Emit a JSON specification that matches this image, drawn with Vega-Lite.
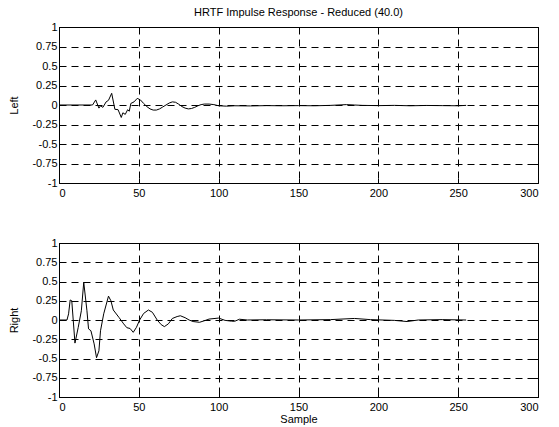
{
  "$schema": "https://vega.github.io/schema/vega-lite/v6.json",
  "padding": {"left": 8, "top": 6, "right": 10, "bottom": 3},
  "spacing": 37,
  "background": "white",
  "config": {
    "font": "Liberation Sans",
    "view": {"stroke": "black", "strokeWidth": 1},
    "axis": {
      "labelFont": "Liberation Sans",
      "labelFontSize": 11,
      "labelColor": "black",
      "titleFont": "Liberation Sans",
      "titleFontSize": 11,
      "titleFontWeight": "normal",
      "titleColor": "black",
      "domainColor": "black",
      "tickColor": "black",
      "gridColor": "black",
      "gridDash": [7, 5],
      "gridOpacity": 1,
      "gridWidth": 1
    },
    "title": {"font": "Liberation Sans", "fontSize": 11, "fontWeight": "normal", "color": "black"}
  },
  "datasets": {
    "hrtf": [
      {"ch": "Left", "sample": 0, "value": 0},
      {"ch": "Left", "sample": 21, "value": 0},
      {"ch": "Left", "sample": 23, "value": 0.065},
      {"ch": "Left", "sample": 25, "value": -0.04},
      {"ch": "Left", "sample": 26, "value": -0.01},
      {"ch": "Left", "sample": 27.5, "value": -0.03},
      {"ch": "Left", "sample": 29.5, "value": 0.04},
      {"ch": "Left", "sample": 31, "value": 0.06},
      {"ch": "Left", "sample": 33, "value": 0.15},
      {"ch": "Left", "sample": 35, "value": -0.055},
      {"ch": "Left", "sample": 37, "value": -0.06},
      {"ch": "Left", "sample": 39, "value": -0.16},
      {"ch": "Left", "sample": 40, "value": -0.1},
      {"ch": "Left", "sample": 41.5, "value": -0.12},
      {"ch": "Left", "sample": 43, "value": -0.06},
      {"ch": "Left", "sample": 44, "value": -0.08},
      {"ch": "Left", "sample": 45, "value": 0.02},
      {"ch": "Left", "sample": 47, "value": 0.04},
      {"ch": "Left", "sample": 49, "value": 0.085},
      {"ch": "Left", "sample": 51, "value": 0.065},
      {"ch": "Left", "sample": 53, "value": 0.02},
      {"ch": "Left", "sample": 55, "value": -0.02},
      {"ch": "Left", "sample": 57, "value": -0.05},
      {"ch": "Left", "sample": 59, "value": -0.065},
      {"ch": "Left", "sample": 61, "value": -0.065},
      {"ch": "Left", "sample": 63, "value": -0.05},
      {"ch": "Left", "sample": 65, "value": -0.025},
      {"ch": "Left", "sample": 67, "value": 0.0},
      {"ch": "Left", "sample": 69, "value": 0.025},
      {"ch": "Left", "sample": 71, "value": 0.04},
      {"ch": "Left", "sample": 73, "value": 0.035},
      {"ch": "Left", "sample": 75, "value": 0.01},
      {"ch": "Left", "sample": 77, "value": -0.02},
      {"ch": "Left", "sample": 79, "value": -0.04},
      {"ch": "Left", "sample": 81, "value": -0.05},
      {"ch": "Left", "sample": 83, "value": -0.045},
      {"ch": "Left", "sample": 85, "value": -0.03},
      {"ch": "Left", "sample": 87, "value": -0.01},
      {"ch": "Left", "sample": 89, "value": 0.005},
      {"ch": "Left", "sample": 91, "value": 0.012},
      {"ch": "Left", "sample": 94, "value": 0.012},
      {"ch": "Left", "sample": 97, "value": 0.005},
      {"ch": "Left", "sample": 100, "value": -0.01},
      {"ch": "Left", "sample": 105, "value": -0.015},
      {"ch": "Left", "sample": 110, "value": -0.01},
      {"ch": "Left", "sample": 120, "value": -0.012},
      {"ch": "Left", "sample": 130, "value": -0.008},
      {"ch": "Left", "sample": 140, "value": -0.01},
      {"ch": "Left", "sample": 150, "value": -0.008},
      {"ch": "Left", "sample": 160, "value": -0.01},
      {"ch": "Left", "sample": 170, "value": -0.005},
      {"ch": "Left", "sample": 180, "value": 0.005},
      {"ch": "Left", "sample": 185, "value": 0.0},
      {"ch": "Left", "sample": 190, "value": -0.005},
      {"ch": "Left", "sample": 200, "value": -0.008},
      {"ch": "Left", "sample": 210, "value": -0.005},
      {"ch": "Left", "sample": 220, "value": -0.01},
      {"ch": "Left", "sample": 230, "value": -0.006},
      {"ch": "Left", "sample": 240, "value": -0.008},
      {"ch": "Left", "sample": 250, "value": -0.01},
      {"ch": "Left", "sample": 255, "value": -0.005},
      {"ch": "Right", "sample": 0, "value": 0},
      {"ch": "Right", "sample": 5, "value": 0},
      {"ch": "Right", "sample": 6, "value": 0.08},
      {"ch": "Right", "sample": 7, "value": 0.26},
      {"ch": "Right", "sample": 8, "value": 0.25},
      {"ch": "Right", "sample": 10, "value": -0.3},
      {"ch": "Right", "sample": 12, "value": -0.1},
      {"ch": "Right", "sample": 14, "value": 0.12},
      {"ch": "Right", "sample": 15.5, "value": 0.49},
      {"ch": "Right", "sample": 17.5, "value": 0.12},
      {"ch": "Right", "sample": 18.5, "value": -0.115},
      {"ch": "Right", "sample": 20, "value": -0.14},
      {"ch": "Right", "sample": 22, "value": -0.31},
      {"ch": "Right", "sample": 23.5, "value": -0.49},
      {"ch": "Right", "sample": 25, "value": -0.4},
      {"ch": "Right", "sample": 26, "value": -0.14},
      {"ch": "Right", "sample": 28, "value": 0.08},
      {"ch": "Right", "sample": 31, "value": 0.31},
      {"ch": "Right", "sample": 32.5, "value": 0.25},
      {"ch": "Right", "sample": 34, "value": 0.13},
      {"ch": "Right", "sample": 37.5, "value": 0.035},
      {"ch": "Right", "sample": 40.5, "value": -0.05},
      {"ch": "Right", "sample": 42.5, "value": -0.1},
      {"ch": "Right", "sample": 44.5, "value": -0.11},
      {"ch": "Right", "sample": 46.5, "value": -0.16},
      {"ch": "Right", "sample": 48.5, "value": -0.095},
      {"ch": "Right", "sample": 50.5, "value": 0},
      {"ch": "Right", "sample": 53, "value": 0.085},
      {"ch": "Right", "sample": 56, "value": 0.13},
      {"ch": "Right", "sample": 58.5, "value": 0.1},
      {"ch": "Right", "sample": 61.5, "value": 0},
      {"ch": "Right", "sample": 64, "value": -0.06},
      {"ch": "Right", "sample": 66, "value": -0.086},
      {"ch": "Right", "sample": 68.5, "value": -0.05},
      {"ch": "Right", "sample": 71, "value": 0.02},
      {"ch": "Right", "sample": 74, "value": 0.045},
      {"ch": "Right", "sample": 76, "value": 0.055},
      {"ch": "Right", "sample": 79, "value": 0.03},
      {"ch": "Right", "sample": 81.5, "value": 0},
      {"ch": "Right", "sample": 84, "value": -0.02},
      {"ch": "Right", "sample": 88, "value": -0.03},
      {"ch": "Right", "sample": 91, "value": -0.01},
      {"ch": "Right", "sample": 94, "value": 0.012},
      {"ch": "Right", "sample": 100, "value": 0.025},
      {"ch": "Right", "sample": 104, "value": -0.005},
      {"ch": "Right", "sample": 108, "value": -0.015},
      {"ch": "Right", "sample": 110, "value": -0.017},
      {"ch": "Right", "sample": 113, "value": 0.01},
      {"ch": "Right", "sample": 118, "value": 0.0},
      {"ch": "Right", "sample": 130, "value": 0.003},
      {"ch": "Right", "sample": 150, "value": 0.0},
      {"ch": "Right", "sample": 170, "value": 0.005},
      {"ch": "Right", "sample": 185, "value": 0.02},
      {"ch": "Right", "sample": 195, "value": 0.005},
      {"ch": "Right", "sample": 210, "value": -0.005},
      {"ch": "Right", "sample": 218, "value": -0.02},
      {"ch": "Right", "sample": 225, "value": 0.0},
      {"ch": "Right", "sample": 240, "value": 0.005},
      {"ch": "Right", "sample": 255, "value": 0.0}
    ]
  },
  "vconcat": [
    {
      "width": 479,
      "height": 156,
      "title": {"text": "HRTF Impulse Response - Reduced (40.0)", "anchor": "middle", "frame": "group", "offset": 3},
      "data": {"name": "hrtf"},
      "transform": [{"filter": "datum.ch === 'Left'"}],
      "layer": [
        {
          "mark": {"type": "line", "color": "black", "strokeWidth": 1, "clip": true},
          "encoding": {
            "x": {"field": "sample", "type": "quantitative", "scale": {"domain": [0, 300], "nice": false, "zero": false},
                  "axis": {"values": [0, 50, 100, 150, 200, 250, 300], "title": null, "tickSize": -5, "labelPadding": 9, "grid": true}},
            "y": {"field": "value", "type": "quantitative", "scale": {"domain": [-1, 1], "nice": false, "zero": false},
                  "axis": {"values": [-1, -0.75, -0.5, -0.25, 0, 0.25, 0.5, 0.75, 1], "title": "Left", "tickSize": -5, "labelPadding": 7, "titlePadding": 12, "grid": true,
                           "labelExpr": "replace(format(datum.value, '~g'), '\u2212', '-')"}}
          }
        },
        {
          "mark": {"type": "line", "opacity": 0},
          "encoding": {
            "x": {"field": "sample", "type": "quantitative", "scale": {"domain": [0, 300], "nice": false, "zero": false},
                  "axis": {"orient": "top", "values": [0, 50, 100, 150, 200, 250, 300], "title": null, "labels": false, "tickSize": -5, "grid": false, "domain": false}},
            "y": {"field": "value", "type": "quantitative", "scale": {"domain": [-1, 1], "nice": false, "zero": false},
                  "axis": {"orient": "right", "values": [-1, -0.75, -0.5, -0.25, 0, 0.25, 0.5, 0.75, 1], "title": null, "labels": false, "tickSize": -5, "grid": false, "domain": false}}
          }
        }
      ],
      "resolve": {"axis": {"x": "independent", "y": "independent"}}
    },
    {
      "width": 479,
      "height": 154,
      "data": {"name": "hrtf"},
      "transform": [{"filter": "datum.ch === 'Right'"}],
      "layer": [
        {
          "mark": {"type": "line", "color": "black", "strokeWidth": 1, "clip": true},
          "encoding": {
            "x": {"field": "sample", "type": "quantitative", "scale": {"domain": [0, 300], "nice": false, "zero": false},
                  "axis": {"values": [0, 50, 100, 150, 200, 250, 300], "title": "Sample", "tickSize": -5, "labelPadding": 9, "titlePadding": 1, "grid": true}},
            "y": {"field": "value", "type": "quantitative", "scale": {"domain": [-1, 1], "nice": false, "zero": false},
                  "axis": {"values": [-1, -0.75, -0.5, -0.25, 0, 0.25, 0.5, 0.75, 1], "title": "Right", "tickSize": -5, "labelPadding": 7, "titlePadding": 12, "grid": true,
                           "labelExpr": "replace(format(datum.value, '~g'), '\u2212', '-')"}}
          }
        },
        {
          "mark": {"type": "line", "opacity": 0},
          "encoding": {
            "x": {"field": "sample", "type": "quantitative", "scale": {"domain": [0, 300], "nice": false, "zero": false},
                  "axis": {"orient": "top", "values": [0, 50, 100, 150, 200, 250, 300], "title": null, "labels": false, "tickSize": -5, "grid": false, "domain": false}},
            "y": {"field": "value", "type": "quantitative", "scale": {"domain": [-1, 1], "nice": false, "zero": false},
                  "axis": {"orient": "right", "values": [-1, -0.75, -0.5, -0.25, 0, 0.25, 0.5, 0.75, 1], "title": null, "labels": false, "tickSize": -5, "grid": false, "domain": false}}
          }
        }
      ],
      "resolve": {"axis": {"x": "independent", "y": "independent"}}
    }
  ]
}
